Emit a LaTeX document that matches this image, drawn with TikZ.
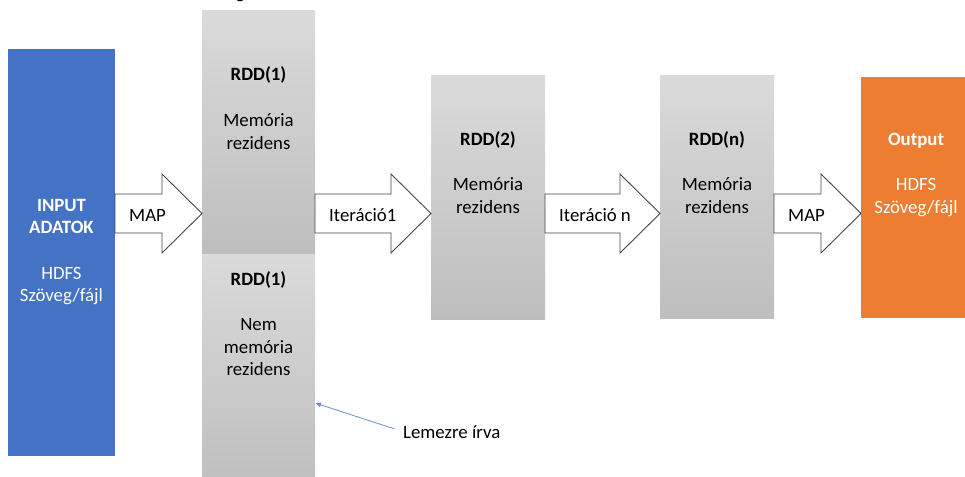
\documentclass[tikz,border=0pt]{standalone}
\usepackage{fontspec}
\setmainfont{Carlito}
\usetikzlibrary{calc,arrows.meta}

\definecolor{inblue}{RGB}{68,114,196}
\definecolor{outorange}{RGB}{237,125,49}
\definecolor{rddtop}{RGB}{218,218,218}
\definecolor{rddbot}{RGB}{190,190,190}
\definecolor{arrowline}{RGB}{70,70,70}
\definecolor{notecol}{RGB}{100,140,215}

\tikzset{
  box/.style={draw=none, inner sep=0pt, outer sep=0pt, anchor=north west},
  rddbox/.style={box, top color=rddtop, bottom color=rddbot},
  txt/.style={font=\fontsize{18.8}{22.7}\selectfont, inner sep=0pt, anchor=base},
  barrow/.style={draw=arrowline, fill=white, line width=0.9pt, line join=miter},
  note/.style={draw=notecol, line width=0.8pt, -{Latex[length=6pt,width=5pt]}},
}

% block arrow from the east side of #1 to the west side of #2, label node #3 with text #4
\newcommand\blockarrow[4]{%
  \draw[barrow] (#1.east |- 0,194) -- ($(#2.west |- 0,194)+(-40,0)$)
    -- ($(#2.west |- 0,174)+(-40,0)$) -- (#2.west |- 0,213.5)
    -- ($(#2.west |- 0,253)+(-40,0)$) -- ($(#2.west |- 0,233)+(-40,0)$)
    -- (#1.east |- 0,233) -- cycle;
  \node[txt, anchor=base west] (#3) at ($(#1.east |- 0,221.5)+(14,0)$) {#4};
}

% centred lines of text: name #1, centre x #2, first baseline #3, style #4, lines #5
\newcommand\textlines[5]{%
  \foreach \tline [count=\i] in {#5}{
    \node[txt, #4] (#1-\i) at (#2, {#3+(\i-1)*22.7}) {\tline};
  }
}

\begin{document}
\begin{tikzpicture}[x=1pt, y=-1pt]
\clip (0,0) rectangle (965,476);

% boxes
\node[box, fill=inblue, minimum width=107pt, minimum height=407pt] (in) at (8,49) {};
\node[rddbox, minimum width=113pt, minimum height=243pt] (rddA) at (202,11) {};
\node[rddbox, minimum width=113pt, minimum height=236pt] (rddB) at (202,254) {};
\node[rddbox, minimum width=114pt, minimum height=243pt] (rddTwo) at (431,76) {};
\node[rddbox, minimum width=114pt, minimum height=242pt] (rddN) at (660,76) {};
\node[box, fill=outorange, minimum width=110pt, minimum height=241pt] (out) at (861,77) {};

% texts inside the boxes
\textlines{inT}{61.5}{211}{text=white}{\textbf{INPUT},\textbf{ADATOK},,HDFS,Szöveg/fájl}
\textlines{rddAT}{258.5}{81}{}{\textbf{RDD(1)},,Memória,rezidens}
\textlines{rddBT}{258.5}{285}{}{\textbf{RDD(1)},,Nem,memória,rezidens}
\textlines{rddTwoT}{488}{145}{}{\textbf{RDD(2)},,Memória,rezidens}
\textlines{rddNT}{717}{145}{}{\textbf{RDD(n)},,Memória,rezidens}
\textlines{outT}{916}{145}{text=white}{\textbf{Output},,HDFS,Szöveg/fájl}

% block arrows
\blockarrow{in}{rddA}{map1}{MAP}
\blockarrow{rddA}{rddTwo}{it1}{Iteráció1}
\blockarrow{rddTwo}{rddN}{itn}{Iteráció n}
\blockarrow{rddN}{out}{map2}{MAP}

% note on the non-resident part
\node[txt, anchor=base west] (disk) at (403,438) {Lemezre írva};
\coordinate (hit) at (rddB.east |- 0,403);
\draw[note, shorten <=9pt] (disk.west) -- (hit);

% descender of a heading line running past the top edge
\node[txt, anchor=base east] (cut) at (245,-1) {g};
\end{tikzpicture}
\end{document}
